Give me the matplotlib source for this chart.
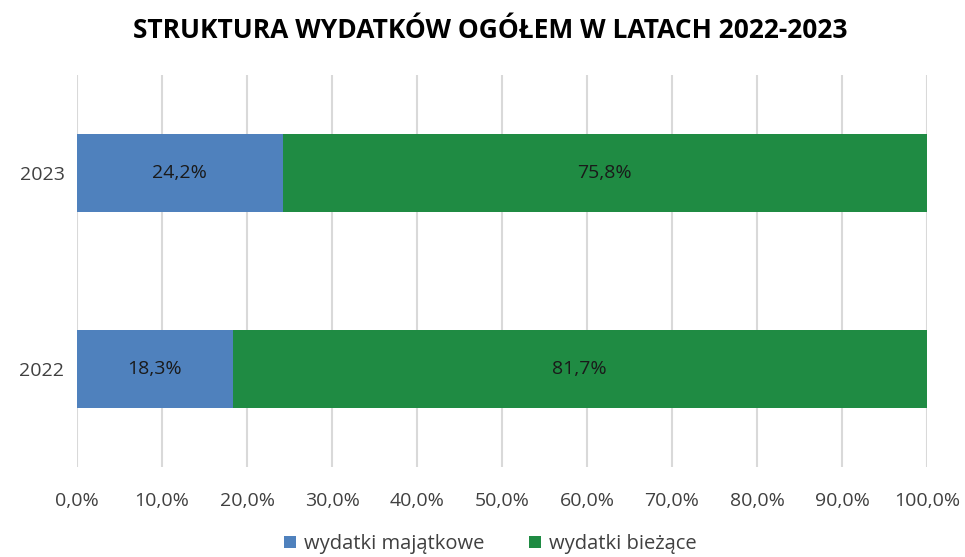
import numpy as np
import matplotlib.pyplot as plt

years = ["2022", "2023"]
majatkowe = [18.3, 24.2]
biezace = [81.7, 75.8]
series_labels = ["wydatki majątkowe", "wydatki bieżące"]
colors = ["#4F81BD", "#1F8B43"]
xticks = np.arange(0, 101, 10)

plt.rcParams["font.family"] = ["Open Sans", "DejaVu Sans"]

fig = plt.figure(figsize=(9.65, 5.57), dpi=100)
ax = fig.add_axes([77 / 965, 1 - 467 / 557, 850 / 965, 392 / 557])

pos = np.arange(len(years))
b1 = ax.barh(pos, majatkowe, height=0.4, color=colors[0], label=series_labels[0], zorder=3)
b2 = ax.barh(pos, biezace, left=majatkowe, height=0.4, color=colors[1], label=series_labels[1], zorder=3)

for bars, vals in ((b1, majatkowe), (b2, biezace)):
    for rect, v in zip(bars, vals):
        ax.text(rect.get_x() + rect.get_width() / 2, rect.get_y() + rect.get_height() / 2,
                f"{v:.1f}%".replace(".", ","), ha="center", va="center",
                fontsize=14, color="#1a1a1a", zorder=4)

ax.set_xlim(0, 100)
ax.set_ylim(-0.5, 1.5)
ax.set_xticks(xticks)
ax.set_xticklabels([f"{t:.1f}%".replace(".", ",") for t in xticks])
ax.set_yticks(pos)
ax.set_yticklabels(years)
ax.tick_params(axis="both", length=0, labelsize=14, colors="#404040")
ax.tick_params(axis="x", pad=18)
ax.tick_params(axis="y", pad=9)
ax.grid(axis="x", color="#D9D9D9", linewidth=1.5, zorder=0)
for s in ax.spines.values():
    s.set_visible(False)

fig.suptitle("STRUKTURA WYDATKÓW OGÓŁEM W LATACH 2022-2023", x=490 / 965, y=1 - 31 / 557,
             va="center", fontsize=19, fontweight="bold", color="#000000")

fig.legend(loc="center", bbox_to_anchor=(490 / 965, 1 - 544 / 557), ncol=2, frameon=False,
           fontsize=14.5, handlelength=0.6, handleheight=0.6, columnspacing=2.2,
           handletextpad=0.4, labelcolor="#404040", borderaxespad=0, borderpad=0)

fig.savefig("out.png", dpi=100)
